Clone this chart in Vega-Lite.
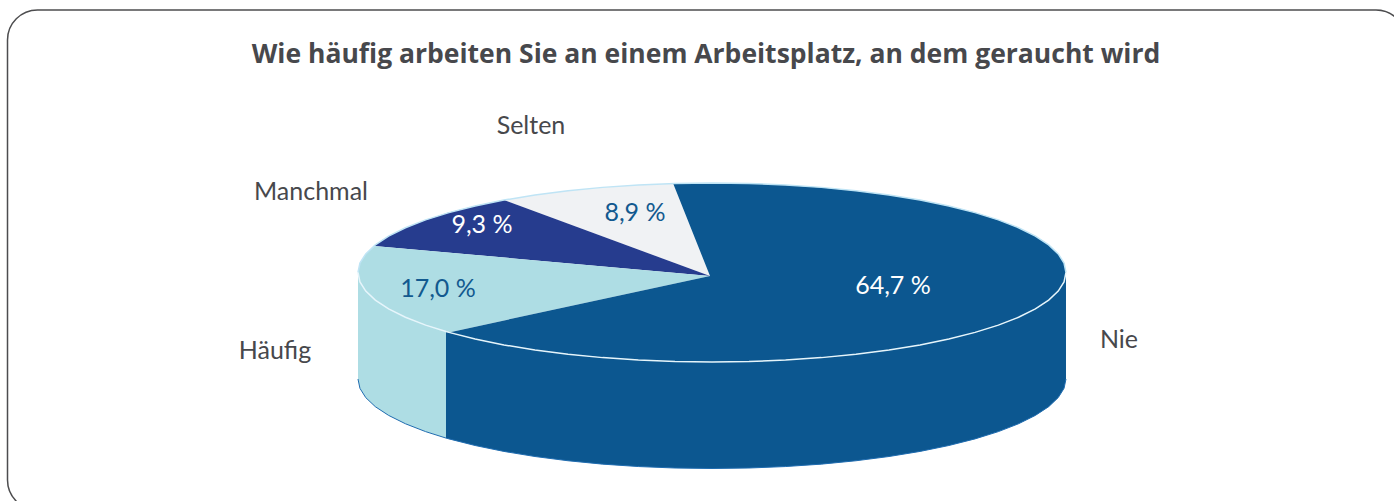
{"$schema":"https://vega.github.io/schema/vega-lite/v6.json","width":1394,"height":501,"padding":0,"autosize":{"type":"none"},"background":"white","view":{"stroke":null},
"title":{"text":"Wie häufig arbeiten Sie an einem Arbeitsplatz, an dem geraucht wird","font":"Open Sans","fontSize":26.5,"fontWeight":"bold","color":"#47484c","anchor":"middle","dx":9,"baseline":"alphabetic","offset":-89},
"datasets":{
"frame":[{"x":-1.9901,"x2":1.9605,"y":2.933,"y2":-2.6536}],
"wall":[
{"slice":"Häufig","x":-1,"y":0,"y2":-1.19},{"slice":"Häufig","x":-0.9945,"y":-0.1045,"y2":-1.2945},{"slice":"Häufig","x":-0.9781,"y":-0.2079,"y2":-1.3979},{"slice":"Häufig","x":-0.9511,"y":-0.309,"y2":-1.499},{"slice":"Häufig","x":-0.9135,"y":-0.4067,"y2":-1.5967},{"slice":"Häufig","x":-0.866,"y":-0.5,"y2":-1.69},{"slice":"Häufig","x":-0.809,"y":-0.5878,"y2":-1.7778},{"slice":"Häufig","x":-0.7514,"y":-0.66,"y2":-1.85},
{"slice":"Nie","x":-0.7514,"y":-0.66,"y2":-1.85},{"slice":"Nie","x":-0.7431,"y":-0.6691,"y2":-1.8591},{"slice":"Nie","x":-0.6691,"y":-0.7431,"y2":-1.9331},{"slice":"Nie","x":-0.5878,"y":-0.809,"y2":-1.999},{"slice":"Nie","x":-0.5,"y":-0.866,"y2":-2.056},{"slice":"Nie","x":-0.4067,"y":-0.9135,"y2":-2.1035},{"slice":"Nie","x":-0.309,"y":-0.9511,"y2":-2.1411},{"slice":"Nie","x":-0.2079,"y":-0.9781,"y2":-2.1681},{"slice":"Nie","x":-0.1045,"y":-0.9945,"y2":-2.1845},{"slice":"Nie","x":0,"y":-1,"y2":-2.19},{"slice":"Nie","x":0.1045,"y":-0.9945,"y2":-2.1845},{"slice":"Nie","x":0.2079,"y":-0.9781,"y2":-2.1681},{"slice":"Nie","x":0.309,"y":-0.9511,"y2":-2.1411},{"slice":"Nie","x":0.4067,"y":-0.9135,"y2":-2.1035},{"slice":"Nie","x":0.5,"y":-0.866,"y2":-2.056},{"slice":"Nie","x":0.5878,"y":-0.809,"y2":-1.999},{"slice":"Nie","x":0.6691,"y":-0.7431,"y2":-1.9331},{"slice":"Nie","x":0.7431,"y":-0.6691,"y2":-1.8591},{"slice":"Nie","x":0.809,"y":-0.5878,"y2":-1.7778},{"slice":"Nie","x":0.866,"y":-0.5,"y2":-1.69},{"slice":"Nie","x":0.9135,"y":-0.4067,"y2":-1.5967},{"slice":"Nie","x":0.9511,"y":-0.309,"y2":-1.499},{"slice":"Nie","x":0.9781,"y":-0.2079,"y2":-1.3979},{"slice":"Nie","x":0.9945,"y":-0.1045,"y2":-1.2945},{"slice":"Nie","x":1,"y":0,"y2":-1.19}],
"slices":[
{"slice":"Selten","i":0,"x":-0.0056,"y":-0.039},{"slice":"Selten","i":1,"x":-0.1097,"y":0.994},{"slice":"Selten","i":2,"x":-0.2079,"y":0.9781},{"slice":"Selten","i":3,"x":-0.309,"y":0.9511},{"slice":"Selten","i":4,"x":-0.4067,"y":0.9135},{"slice":"Selten","i":5,"x":-0.5,"y":0.866},{"slice":"Selten","i":6,"x":-0.5878,"y":0.809},
{"slice":"Manchmal","i":0,"x":-0.0056,"y":-0.039},{"slice":"Manchmal","i":1,"x":-0.5878,"y":0.809},{"slice":"Manchmal","i":2,"x":-0.6691,"y":0.7431},{"slice":"Manchmal","i":3,"x":-0.7431,"y":0.6691},{"slice":"Manchmal","i":4,"x":-0.809,"y":0.5878},{"slice":"Manchmal","i":5,"x":-0.866,"y":0.5},{"slice":"Manchmal","i":6,"x":-0.9135,"y":0.4067},{"slice":"Manchmal","i":7,"x":-0.9511,"y":0.309},{"slice":"Manchmal","i":8,"x":-0.9548,"y":0.2974},
{"slice":"Häufig","i":0,"x":-0.0056,"y":-0.039},{"slice":"Häufig","i":1,"x":-0.9548,"y":0.2974},{"slice":"Häufig","i":2,"x":-0.9781,"y":0.2079},{"slice":"Häufig","i":3,"x":-0.9945,"y":0.1045},{"slice":"Häufig","i":4,"x":-1,"y":0},{"slice":"Häufig","i":5,"x":-0.9945,"y":-0.1045},{"slice":"Häufig","i":6,"x":-0.9781,"y":-0.2079},{"slice":"Häufig","i":7,"x":-0.9511,"y":-0.309},{"slice":"Häufig","i":8,"x":-0.9135,"y":-0.4067},{"slice":"Häufig","i":9,"x":-0.866,"y":-0.5},{"slice":"Häufig","i":10,"x":-0.809,"y":-0.5878},{"slice":"Häufig","i":11,"x":-0.7431,"y":-0.6691},
{"slice":"Nie","i":0,"x":-0.0056,"y":-0.039},{"slice":"Nie","i":1,"x":-0.1097,"y":0.994},{"slice":"Nie","i":2,"x":0,"y":1},{"slice":"Nie","i":3,"x":0.1045,"y":0.9945},{"slice":"Nie","i":4,"x":0.2079,"y":0.9781},{"slice":"Nie","i":5,"x":0.309,"y":0.9511},{"slice":"Nie","i":6,"x":0.4067,"y":0.9135},{"slice":"Nie","i":7,"x":0.5,"y":0.866},{"slice":"Nie","i":8,"x":0.5878,"y":0.809},{"slice":"Nie","i":9,"x":0.6691,"y":0.7431},{"slice":"Nie","i":10,"x":0.7431,"y":0.6691},{"slice":"Nie","i":11,"x":0.809,"y":0.5878},{"slice":"Nie","i":12,"x":0.866,"y":0.5},{"slice":"Nie","i":13,"x":0.9135,"y":0.4067},{"slice":"Nie","i":14,"x":0.9511,"y":0.309},{"slice":"Nie","i":15,"x":0.9781,"y":0.2079},{"slice":"Nie","i":16,"x":0.9945,"y":0.1045},{"slice":"Nie","i":17,"x":1,"y":0},{"slice":"Nie","i":18,"x":0.9945,"y":-0.1045},{"slice":"Nie","i":19,"x":0.9781,"y":-0.2079},{"slice":"Nie","i":20,"x":0.9511,"y":-0.309},{"slice":"Nie","i":21,"x":0.9135,"y":-0.4067},{"slice":"Nie","i":22,"x":0.866,"y":-0.5},{"slice":"Nie","i":23,"x":0.809,"y":-0.5878},{"slice":"Nie","i":24,"x":0.7431,"y":-0.6691},{"slice":"Nie","i":25,"x":0.6691,"y":-0.7431},{"slice":"Nie","i":26,"x":0.5878,"y":-0.809},{"slice":"Nie","i":27,"x":0.5,"y":-0.866},{"slice":"Nie","i":28,"x":0.4067,"y":-0.9135},{"slice":"Nie","i":29,"x":0.309,"y":-0.9511},{"slice":"Nie","i":30,"x":0.2079,"y":-0.9781},{"slice":"Nie","i":31,"x":0.1045,"y":-0.9945},{"slice":"Nie","i":32,"x":0,"y":-1},{"slice":"Nie","i":33,"x":-0.1045,"y":-0.9945},{"slice":"Nie","i":34,"x":-0.2079,"y":-0.9781},{"slice":"Nie","i":35,"x":-0.309,"y":-0.9511},{"slice":"Nie","i":36,"x":-0.4067,"y":-0.9135},{"slice":"Nie","i":37,"x":-0.5,"y":-0.866},{"slice":"Nie","i":38,"x":-0.5878,"y":-0.809},{"slice":"Nie","i":39,"x":-0.6691,"y":-0.7431},{"slice":"Nie","i":40,"x":-0.7431,"y":-0.6691}],
"backrim":[{"x":-1,"y":0},{"x":-0.9945,"y":0.1045},{"x":-0.9781,"y":0.2079},{"x":-0.9511,"y":0.309},{"x":-0.9135,"y":0.4067},{"x":-0.866,"y":0.5},{"x":-0.809,"y":0.5878},{"x":-0.7431,"y":0.6691},{"x":-0.6691,"y":0.7431},{"x":-0.5878,"y":0.809},{"x":-0.5,"y":0.866},{"x":-0.4067,"y":0.9135},{"x":-0.309,"y":0.9511},{"x":-0.2079,"y":0.9781},{"x":-0.1045,"y":0.9945},{"x":0,"y":1},{"x":0.1045,"y":0.9945},{"x":0.2079,"y":0.9781},{"x":0.309,"y":0.9511},{"x":0.4067,"y":0.9135},{"x":0.5,"y":0.866},{"x":0.5878,"y":0.809},{"x":0.6691,"y":0.7431},{"x":0.7431,"y":0.6691},{"x":0.809,"y":0.5878},{"x":0.866,"y":0.5},{"x":0.9135,"y":0.4067},{"x":0.9511,"y":0.309},{"x":0.9781,"y":0.2079},{"x":0.9945,"y":0.1045},{"x":1,"y":0}],
"labels":[{"slice":"Selten","x":-0.5113,"y":1.637},{"slice":"Manchmal","x":-1.1328,"y":0.8996},{"slice":"Häufig","x":-1.2345,"y":-0.877},{"slice":"Nie","x":1.1497,"y":-0.754}],
"shares":[{"slice":"Nie","share":"64,7 %","x":0.5113,"y":-0.1507},{"slice":"Häufig","share":"17,0 %","x":-0.774,"y":-0.1842},{"slice":"Manchmal","share":"9,3 %","x":-0.6497,"y":0.5309},{"slice":"Selten","share":"8,9 %","x":-0.2175,"y":0.665}]
},
"encoding":{
"x":{"field":"x","type":"quantitative","axis":null,"scale":{"domain":[-2.0113,1.9266],"nice":false,"zero":false}},
"y":{"field":"y","type":"quantitative","axis":null,"scale":{"domain":[-2.5531,3.0447],"nice":false,"zero":false}}
},
"layer":[
{"data":{"name":"frame"},"mark":{"type":"rect","cornerRadius":30,"fill":"white","stroke":"#4d4d4f","strokeWidth":1.5},"encoding":{"x2":{"field":"x2"},"y2":{"field":"y2"}}},
{"data":{"name":"wall"},"mark":{"type":"area"},"encoding":{"y2":{"field":"y2"},"color":{"field":"slice","type":"nominal","legend":null,"scale":{"domain":["Nie","Häufig","Manchmal","Selten"],"range":["#0c5790","#aedde4","#263c8e","#f0f2f4"]}}}},
{"data":{"name":"slices"},"mark":{"type":"line","filled":true},"encoding":{"order":{"field":"i","type":"quantitative"},"color":{"field":"slice","type":"nominal","legend":null}}},
{"data":{"name":"backrim"},"mark":{"type":"line","stroke":"#bfe4f5","strokeWidth":1.5},"encoding":{}},
{"data":{"name":"wall"},"mark":{"type":"line","stroke":"#e6f5fb","strokeWidth":1.5},"encoding":{}},
{"data":{"name":"wall"},"mark":{"type":"line","stroke":"#1f6cb0","strokeWidth":1},"encoding":{"y":{"field":"y2","type":"quantitative"}}},
{"data":{"name":"labels"},"mark":{"type":"text","font":"Lato","fontSize":25,"fontWeight":400,"color":"#47484c","align":"center","baseline":"middle"},"encoding":{"text":{"field":"slice"}}},
{"data":{"name":"shares"},"mark":{"type":"text","font":"Lato","fontSize":25,"fontWeight":400,"align":"center","baseline":"middle"},"encoding":{"text":{"field":"share"},"color":{"condition":{"test":"datum.slice==='Nie'||datum.slice==='Manchmal'","value":"#ffffff"},"value":"#12598f"}}}
]}
